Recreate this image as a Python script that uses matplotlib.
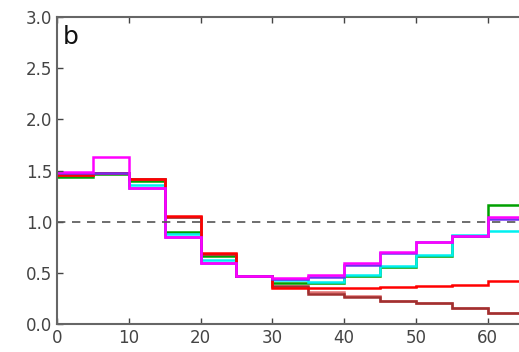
import numpy as np
import matplotlib
matplotlib.use("Agg")
import matplotlib.pyplot as plt

# bin edges (0..65, width 5)
edges = np.arange(0, 70, 5)

green = [1.44, 1.47, 1.40, 0.90, 0.66, 0.47, 0.40, 0.40, 0.47, 0.56, 0.66, 0.86, 1.16]
cyan = [1.47, 1.48, 1.36, 0.88, 0.63, 0.47, 0.43, 0.41, 0.48, 0.57, 0.67, 0.87, 0.91]
blue = [1.48, 1.48, 1.33, 0.85, 0.60, 0.47, 0.44, 0.46, 0.58, 0.69, 0.80, 0.86, 1.03]
magenta = [1.49, 1.63, 1.33, 0.85, 0.60, 0.47, 0.45, 0.48, 0.60, 0.70, 0.80, 0.86, 1.05]
red = [1.46, 1.48, 1.42, 1.06, 0.69, 0.47, 0.35, 0.35, 0.35, 0.36, 0.37, 0.38, 0.42]
lightred = [1.46, 1.48, 1.42, 1.05, 0.68, 0.47, 0.36, 0.31, 0.27, 0.22, 0.21, 0.16, 0.11]
darkred = [1.46, 1.48, 1.42, 1.05, 0.68, 0.47, 0.37, 0.29, 0.26, 0.22, 0.21, 0.16, 0.11]

series = [
    (green, "#00a000"),
    (cyan, "#00f0f0"),
    (lightred, "#e07070"),
    (darkred, "#a03030"),
    (red, "#ff0000"),
    (blue, "#7030f0"),
    (magenta, "#ff00ff"),
]

fig = plt.figure(figsize=(5.19, 3.52), dpi=100)
ax = fig.add_axes([57 / 519, 28 / 352, 70 * 7.18 / 519, 307 / 352])

for vals, col in series:
    ax.stairs(vals, edges, baseline=None, color=col, lw=1.8)

ax.axhline(1.0, color="#555555", ls="--", lw=1.2, dashes=(5, 4))

ax.set_xlim(0, 70)
ax.set_ylim(0, 3.0)
ax.set_xticks(np.arange(0, 61, 10))
ax.set_yticks(np.arange(0, 3.01, 0.5))
ax.tick_params(direction="in", top=True, right=True, labelsize=12,
               colors="#444444", length=4, width=1)
for s in ax.spines.values():
    s.set_color("#666666")
    s.set_linewidth(1.5)

ax.text(0.012, 0.975, "b", transform=ax.transAxes, fontsize=18,
        va="top", ha="left", color="#111111")

fig.savefig("out.png", dpi=100)
